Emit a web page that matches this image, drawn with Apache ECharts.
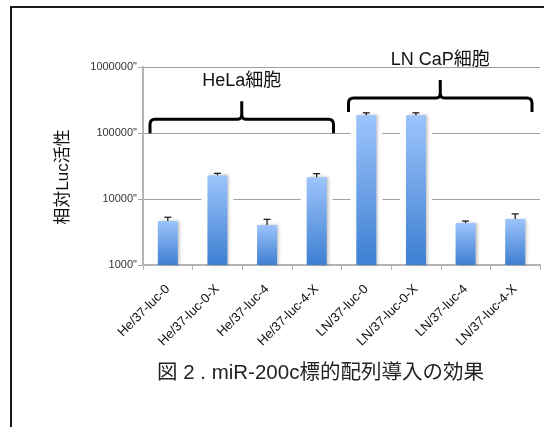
<!DOCTYPE html>
<html>
<head>
<meta charset="utf-8">
<title>miR-200c標的配列導入の効果</title>
<script src="https://cdn.jsdelivr.net/npm/echarts@6/dist/echarts.min.js"></script>
<style>
  html, body { margin: 0; padding: 0; background: #fff; }
  #chart { width: 544px; height: 427px; }
</style>
</head>
<body>
<div id="chart"></div>
<script>
// Relative luciferase activity per construct (log scale)
const categories = [
  'He/37-luc-0', 'He/37-luc-0-X', 'He/37-luc-4', 'He/37-luc-4-X',
  'LN/37-luc-0', 'LN/37-luc-0-X', 'LN/37-luc-4', 'LN/37-luc-4-X'
];
const lucActivity = [4640, 22800, 4030, 21300, 185000, 185000, 4320, 4980];
const lucError = [650, 1700, 890, 2900, 17000, 17000, 320, 970];
const yTicks = [1000, 10000, 100000, 1000000];

// Cell-line groups drawn as braces above the bars
const groupLabels = ['HeLa細胞', 'LN CaP細胞'];
const groupFirst = [0, 4];
const groupLast = [3, 7];
const groupBraceLevel = [161000, 340000];

const FONT = '"Liberation Sans", "Noto Sans CJK JP", sans-serif';

const chart = echarts.init(document.getElementById('chart'), null, { renderer: 'canvas' });

const barWidth = 20;

// curly brace opening downward, with legs at xL / xR and a peak at the middle
function bracePath(xL, xR, yH, legDown, peakUp) {
  const xC = (xL + xR) / 2;
  const r = 5;
  return 'M' + xL + ',' + (yH + legDown) +
    ' L' + xL + ',' + (yH + r) +
    ' Q' + xL + ',' + yH + ' ' + (xL + r) + ',' + yH +
    ' L' + (xC - 4) + ',' + yH +
    ' Q' + xC + ',' + yH + ' ' + xC + ',' + (yH - 5) +
    ' L' + xC + ',' + (yH - peakUp) +
    ' M' + xC + ',' + (yH - 5) +
    ' Q' + xC + ',' + yH + ' ' + (xC + 4) + ',' + yH +
    ' L' + (xR - r) + ',' + yH +
    ' Q' + xR + ',' + yH + ' ' + xR + ',' + (yH + r) +
    ' L' + xR + ',' + (yH + legDown);
}

const option = {
  animation: false,
  backgroundColor: '#fff',
  grid: {
    show: false,
    left: 143, top: 67, width: 397, height: 198,
    containLabel: false, outerBoundsMode: 'none'
  },
  xAxis: {
    type: 'category',
    data: categories,
    axisLine: { lineStyle: { color: '#b4b4b4', width: 2 } },
    axisTick: { show: true, alignWithLabel: false, length: 5, lineStyle: { color: '#b4b4b4', width: 1 } },
    axisLabel: {
      rotate: 45, interval: 0, margin: 22,
      fontSize: 13, color: '#111', fontFamily: FONT
    },
    splitLine: { show: false },
    splitArea: { show: false }
  },
  yAxis: {
    type: 'log',
    logBase: 10,
    min: yTicks[0],
    max: yTicks[yTicks.length - 1],
    axisLine: { show: true, lineStyle: { color: '#b4b4b4', width: 2 } },
    axisTick: { show: true, length: 5, lineStyle: { color: '#a8a8a8' } },
    axisLabel: {
      margin: 6, fontSize: 11, color: '#333', fontFamily: FONT,
      formatter: v => String(Math.round(v)) + '"'
    },
    splitLine: { show: true, lineStyle: { color: '#a0a0a0', width: 1 } }
  },
  title: {
    text: '図 2 . miR-200c標的配列導入の効果',
    left: 157, top: 363, padding: 0,
    textStyle: { fontSize: 20.5, fontWeight: 'normal', color: '#222', fontFamily: FONT }
  },
  graphic: [
    {
      // vertical axis title
      type: 'text',
      z: 10,
      x: 63,
      y: 177,
      rotation: Math.PI / 2,
      style: {
        text: '相対Luc活性', align: 'center', verticalAlign: 'middle',
        fontSize: 17, fill: '#111', fontFamily: FONT
      }
    },
    {
      // outer frame
      type: 'rect',
      z: 0,
      shape: { x: 11, y: 7, width: 600, height: 500 },
      style: { fill: null, stroke: '#1a1a1a', lineWidth: 2 }
    }
  ],
  series: [
    {
      // white clearance around each bar that breaks the gridlines
      type: 'custom',
      z: 1,
      silent: true,
      data: lucActivity.map((v, i) => [i, v]),
      renderItem: (params, api) => {
        const top = api.coord([api.value(0), api.value(1)]);
        const base = api.coord([api.value(0), yTicks[0]]);
        const w = barWidth + 12;
        return {
          type: 'rect',
          shape: { x: top[0] - w / 2, y: top[1] - 4, width: w, height: base[1] - top[1] + 3 },
          style: { fill: '#ffffff' }
        };
      }
    },
    {
      type: 'bar',
      z: 2,
      barWidth: barWidth,
      data: lucActivity,
      itemStyle: {
        color: new echarts.graphic.LinearGradient(0, 0, 0, 1, [
          { offset: 0, color: '#9dc4fc' },
          { offset: 1, color: '#3d7fd1' }
        ]),
        shadowColor: 'rgba(0,0,0,0.25)',
        shadowBlur: 3,
        shadowOffsetX: 2,
        shadowOffsetY: 0
      }
    },
    {
      // upper error bars
      type: 'custom',
      z: 3,
      silent: true,
      data: lucActivity.map((v, i) => [i, v, v + lucError[i]]),
      renderItem: (params, api) => {
        const p0 = api.coord([api.value(0), api.value(1)]);
        const p1 = api.coord([api.value(0), api.value(2)]);
        const cap = 3.5;
        const st = { stroke: '#111', lineWidth: 1.2 };
        return {
          type: 'group',
          children: [
            { type: 'line', shape: { x1: p0[0], y1: p0[1], x2: p1[0], y2: p1[1] }, style: st },
            { type: 'line', shape: { x1: p1[0] - cap, y1: p1[1], x2: p1[0] + cap, y2: p1[1] }, style: st }
          ]
        };
      }
    },
    {
      // cell-line braces with their names
      type: 'custom',
      z: 10,
      silent: true,
      clip: false,
      data: groupLabels.map((label, g) => [groupFirst[g], groupLast[g], groupBraceLevel[g]]),
      renderItem: (params, api) => {
        const first = api.coord([api.value(0), api.value(2)]);
        const last = api.coord([api.value(1), api.value(2)]);
        const step = api.coord([1, api.value(2)])[0] - api.coord([0, api.value(2)])[0];
        const xL = first[0] - step / 2 + 7;
        const xR = last[0] + step / 2 - 8;
        const yH = first[1];
        return {
          type: 'group',
          children: [
            {
              type: 'path',
              shape: { pathData: bracePath(xL, xR, yH, 14, 18) },
              style: { fill: null, stroke: '#000', lineWidth: 3, lineJoin: 'round' }
            },
            {
              type: 'text',
              x: (xL + xR) / 2,
              y: yH - 38,
              style: {
                text: groupLabels[params.dataIndex], align: 'center', verticalAlign: 'middle',
                fontSize: 18, fill: '#111', fontFamily: FONT
              }
            }
          ]
        };
      }
    }
  ]
};

chart.setOption(option);
</script>
</body>
</html>
